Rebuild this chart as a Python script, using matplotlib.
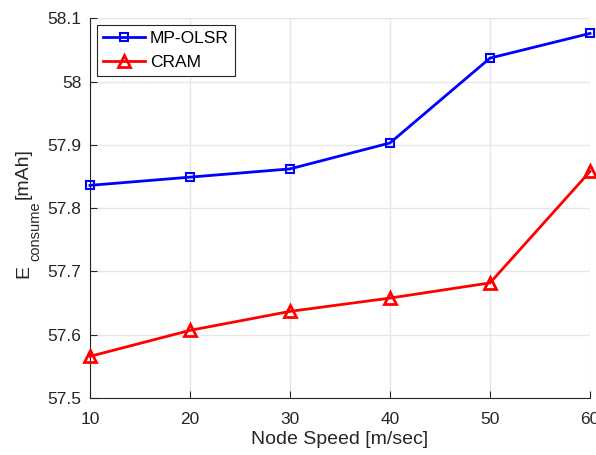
import numpy as np
import matplotlib.pyplot as plt

plt.rcParams['font.family'] = ['Liberation Sans', 'DejaVu Sans']

speed = [10, 20, 30, 40, 50, 60]
mp_olsr = [57.836, 57.849, 57.862, 57.903, 58.037, 58.076]
cram = [57.566, 57.607, 57.637, 57.658, 57.682, 57.858]

W, H = 596, 455
fig = plt.figure(figsize=(W / 100, H / 100), dpi=100)
ax = fig.add_axes([0.151, 0.125, 0.839, 0.835])

ax.plot(speed, mp_olsr, color='#0000ff', lw=2, marker='s', ms=6,
        mfc='none', mew=1.5, label='MP-OLSR', clip_on=False, zorder=3)
ax.plot(speed, cram, color='#ff0000', lw=2, marker='^', ms=9,
        mfc='none', mew=2, label='CRAM', clip_on=False, zorder=3)

ax.set_xlim(10, 60)
ax.set_ylim(57.5, 58.1)
ax.set_xticks(speed)
ax.set_yticks(np.arange(57.5, 58.11, 0.1))
ax.set_yticklabels(['57.5', '57.6', '57.7', '57.8', '57.9', '58', '58.1'])
ax.tick_params(direction='in', labelsize=12.5, length=5, colors='#262626')
ax.tick_params(axis='x', pad=10)
ax.tick_params(axis='y', pad=6)
ax.grid(True, color='#e6e6e6', lw=1)
ax.set_axisbelow(True)
for s in ['top', 'right']:
    ax.spines[s].set_visible(False)
for s in ['left', 'bottom']:
    ax.spines[s].set_color('#262626')

ax.set_xlabel('Node Speed [m/sec]', fontsize=14, color='#262626', labelpad=3)

# y label, MATLAB style: E, lowered subscript, then unit
fig.canvas.draw()
r = fig.canvas.get_renderer()
kw = dict(rotation=90, rotation_mode='anchor', ha='left', va='baseline',
          color='#262626')
t = fig.text(28 / W, (H - 278) / H, 'E', fontsize=14, **kw)
y0 = t.get_window_extent(r).y1 + 4
t = fig.text(39 / W, y0 / H, 'consume', fontsize=10.5, **kw)
y0 = t.get_window_extent(r).y1 + 2
fig.text(28 / W, y0 / H, '[mAh]', fontsize=14, **kw)

leg = ax.legend(loc='upper left', fontsize=12.5, fancybox=False, framealpha=1,
                edgecolor='#262626', handlelength=2.4, borderaxespad=0.4,
                handletextpad=0.3, borderpad=0.35, labelspacing=0.5)
leg.get_frame().set_linewidth(0.8)

fig.savefig('out.png', dpi=100)
